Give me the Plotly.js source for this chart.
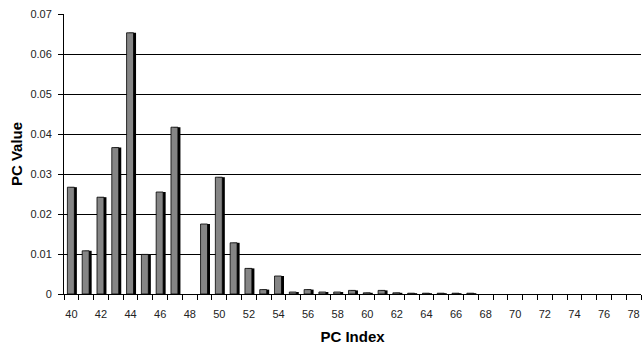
<!DOCTYPE html>
<html>
<head>
<meta charset="utf-8">
<script src="https://cdn.plot.ly/plotly-3.0.1.min.js"></script>
<style>html,body{margin:0;padding:0;background:#fff;}#chart{width:642px;height:346px;}</style>
</head>
<body>
<div id="chart"></div>
<script>
const pcIndex = [40,41,42,43,44,45,46,47,48,49,50,51,52,53,54,55,56,57,58,59,60,61,62,63,64,65,66,67,68,69,70,71,72,73,74,75,76,77,78];
const pcValue = [0.0267,0.0108,0.0242,0.0366,0.0653,0.0099,0.0255,0.0417,0,0.0175,0.0292,0.0128,0.0064,0.0011,0.0045,0.0005,0.0011,0.0005,0.0005,0.0009,0.0003,0.0009,0.0003,0.0002,0.0002,0.0002,0.0002,0.0002,0,0,0,0,0,0,0,0,0,0,0];
const xTickVals = [40,42,44,46,48,50,52,54,56,58,60,62,64,66,68,70,72,74,76,78];
const yTickVals = [0,0.01,0.02,0.03,0.04,0.05,0.06,0.07];
const yTickText = ['0','0.01','0.02','0.03','0.04','0.05','0.06','0.07'];

const outlineWidths = pcValue.map(v => v > 0 ? 0.8 : 0);

const shadow = {
  type:'bar', x:pcIndex, y:pcValue,
  width:0.47, offset:-0.1,
  marker:{color:'#000', line:{width:0}},
  hoverinfo:'skip', showlegend:false
};
const bars = {
  type:'bar', x:pcIndex, y:pcValue,
  width:0.47, offset:-0.27,
  marker:{color:'#858585', line:{color:'#000', width:outlineWidths}},
  showlegend:false
};
const layout = {
  width:642, height:346,
  margin:{l:64, r:1, t:14, b:52},
  paper_bgcolor:'#fff', plot_bgcolor:'#fff',
  barmode:'overlay',
  font:{family:'"Liberation Sans", Arial, sans-serif', size:11, color:'#222'},
  xaxis:{
    range:[39.5,78.5], tickvals:xTickVals, ticks:'', showgrid:false, zeroline:false,
    showline:true, linecolor:'#000', linewidth:1,
    minor:{ticks:'outside', tick0:39.5, dtick:1, ticklen:5, tickcolor:'#000', tickwidth:1, showgrid:false},
    ticklabelstandoff:10,
    tickfont:{size:11, color:'#222'},
    title:{text:'<b>PC Index</b>', font:{size:15, color:'#000'}, standoff:12}
  },
  yaxis:{
    range:[0,0.07], tickvals:yTickVals, ticktext:yTickText,
    ticks:'outside', ticklen:5, tickcolor:'#000',
    showgrid:true, gridcolor:'#000', gridwidth:1, zeroline:false,
    showline:true, linecolor:'#000', linewidth:1,
    ticklabelstandoff:4,
    tickfont:{size:11, color:'#222'},
    title:{text:'<b>PC Value</b>', font:{size:15, color:'#000'}, standoff:4}
  }
};
Plotly.newPlot('chart',[shadow,bars],layout,{displayModeBar:false,staticPlot:true});
</script>
</body>
</html>
